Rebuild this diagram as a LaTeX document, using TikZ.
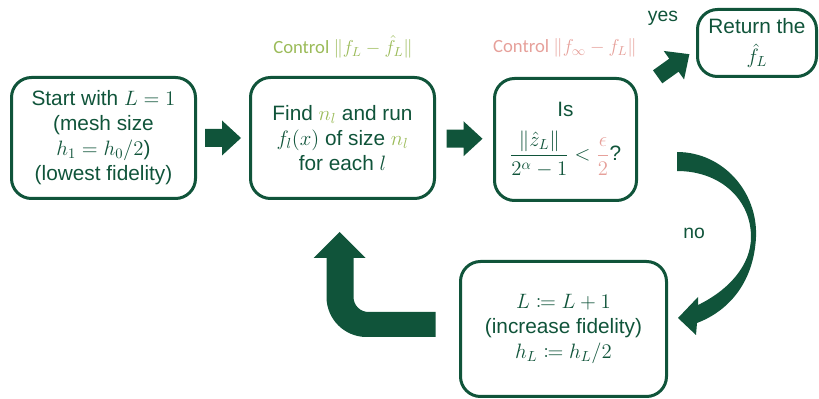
\documentclass[tikz,border=0pt]{standalone}
\usepackage{fix-cm}
\usepackage{mathtools}
\usepackage{fontspec}
\setmainfont{Liberation Sans}
\newfontfamily\calibrifont{Carlito}
\usetikzlibrary{calc}

\definecolor{boxgreen}{RGB}{16,84,58}
\definecolor{ltgreen}{RGB}{155,187,89}
\definecolor{pinkred}{RGB}{230,160,154}

\tikzset{every picture/.style={line width=0.75pt},
  stepbox/.style={draw=boxgreen, line width=2.25pt, rounded corners=15pt, text=boxgreen, align=center, inner sep=0pt, font=\fontsize{15.6}{18.75}\selectfont},
  blockfill/.style={fill=boxgreen, draw=none},
  ctrllabel/.style={font=\calibrifont\fontsize{14}{16}\selectfont},
  answer/.style={text=boxgreen, font=\fontsize{14.5}{17}\selectfont}}

\begin{document}
\begin{tikzpicture}[x=0.75pt,y=0.75pt,yscale=-1,xscale=1]
\useasboundingbox (0,0) rectangle (819,399);

% Text Node
\node [stepbox, minimum width=138pt, minimum height=90.75pt] (start) at (103.5,138) {Start with $L=1$\\(mesh size\\$h_1=h_0/2$)\\(lowest fidelity)};
% Text Node
\node [stepbox, minimum width=138pt, minimum height=90.75pt] (find) at (342.5,138) {Find {\color{ltgreen}$n_l$} and run\\$f_l(x)$ of size {\color{ltgreen}$n_l$}\\for each $l$};
% Text Node
\node [stepbox, minimum width=106.5pt, minimum height=91.5pt] (test) at (565.5,139.5) {Is\\[10pt]$\displaystyle\frac{\|\hat{z}_L\|}{2^{\alpha}-1}<{\color{pinkred}\frac{\epsilon}{2}}$?};
% Text Node
\node [stepbox, minimum width=89.25pt, minimum height=50.25pt] (ret) at (757,43) {Return the\\[4pt]$\hat{f}_L$};
% Text Node
\node [stepbox, minimum width=154.5pt, minimum height=101.25pt] (incr) at (563.5,329) {$L\coloneqq L+1$\\(increase fidelity)\\$h_L\coloneqq h_L/2$};

% Text Node
\node [ctrllabel, text=ltgreen] (ctrlfid) at (343,47) {Control $\|f_L-\hat{f}_L\|$};
% Text Node
\node [ctrllabel, text=pinkred] (ctrlbias) at (565,48) {Control $\|f_\infty-f_L\|$};
% Text Node
\node [answer] (yes) at (663,18) {yes};
% Text Node
\node [answer] (no) at (694,233) {no};

%Right Arrow
\fill [blockfill, shift={($(start.east)!0.5!(find.west)$)}] (-18,-9) -- (-1,-9) -- (-1,-17.5) -- (18,0) -- (-1,17.5) -- (-1,9) -- (-18,9) -- cycle ;
%Right Arrow
\fill [blockfill, shift={($(find.east)!0.5!(test.west)$)}] (-18,-9) -- (-1,-9) -- (-1,-17.5) -- (18,0) -- (-1,17.5) -- (-1,9) -- (-18,9) -- cycle ;
%Right Arrow (yes)
\fill [blockfill, shift={($(test.north east)!0.5!(ret.south west)+(6.5,-12)$)}, rotate=-35.5] (-19.5,-8) -- (0.5,-8) -- (0.5,-17.5) -- (19.5,0) -- (0.5,17.5) -- (0.5,8) -- (-19.5,8) -- cycle ;

%Curved Arrow (no)
\fill [blockfill, shift={(test.east)}] (39,12.5) .. controls (85,12.5) and (120,52.5) .. (118,97.5) .. controls (116,140.5) and (93,170.5) .. (59,183.5) -- (58,195.5) -- (40,178.5) -- (60,157.5) -- (60,165.5) .. controls (91,150.5) and (113,125.5) .. (113,97.5) .. controls (113,60.5) and (83,31.5) .. (39,31.5) -- cycle ;

%Bent Up Arrow
\fill [blockfill, shift={(incr.west)}] (-23.5,-17) -- (-90.5,-17) arc [start angle=90, end angle=180, radius=15] -- (-105.5,-71) -- (-93.5,-71) -- (-119.5,-97) -- (-145.5,-71) -- (-132.5,-71) -- (-132.5,-32) arc [start angle=180, end angle=90, radius=40] -- (-23.5,8) -- cycle ;

\end{tikzpicture}
\end{document}
